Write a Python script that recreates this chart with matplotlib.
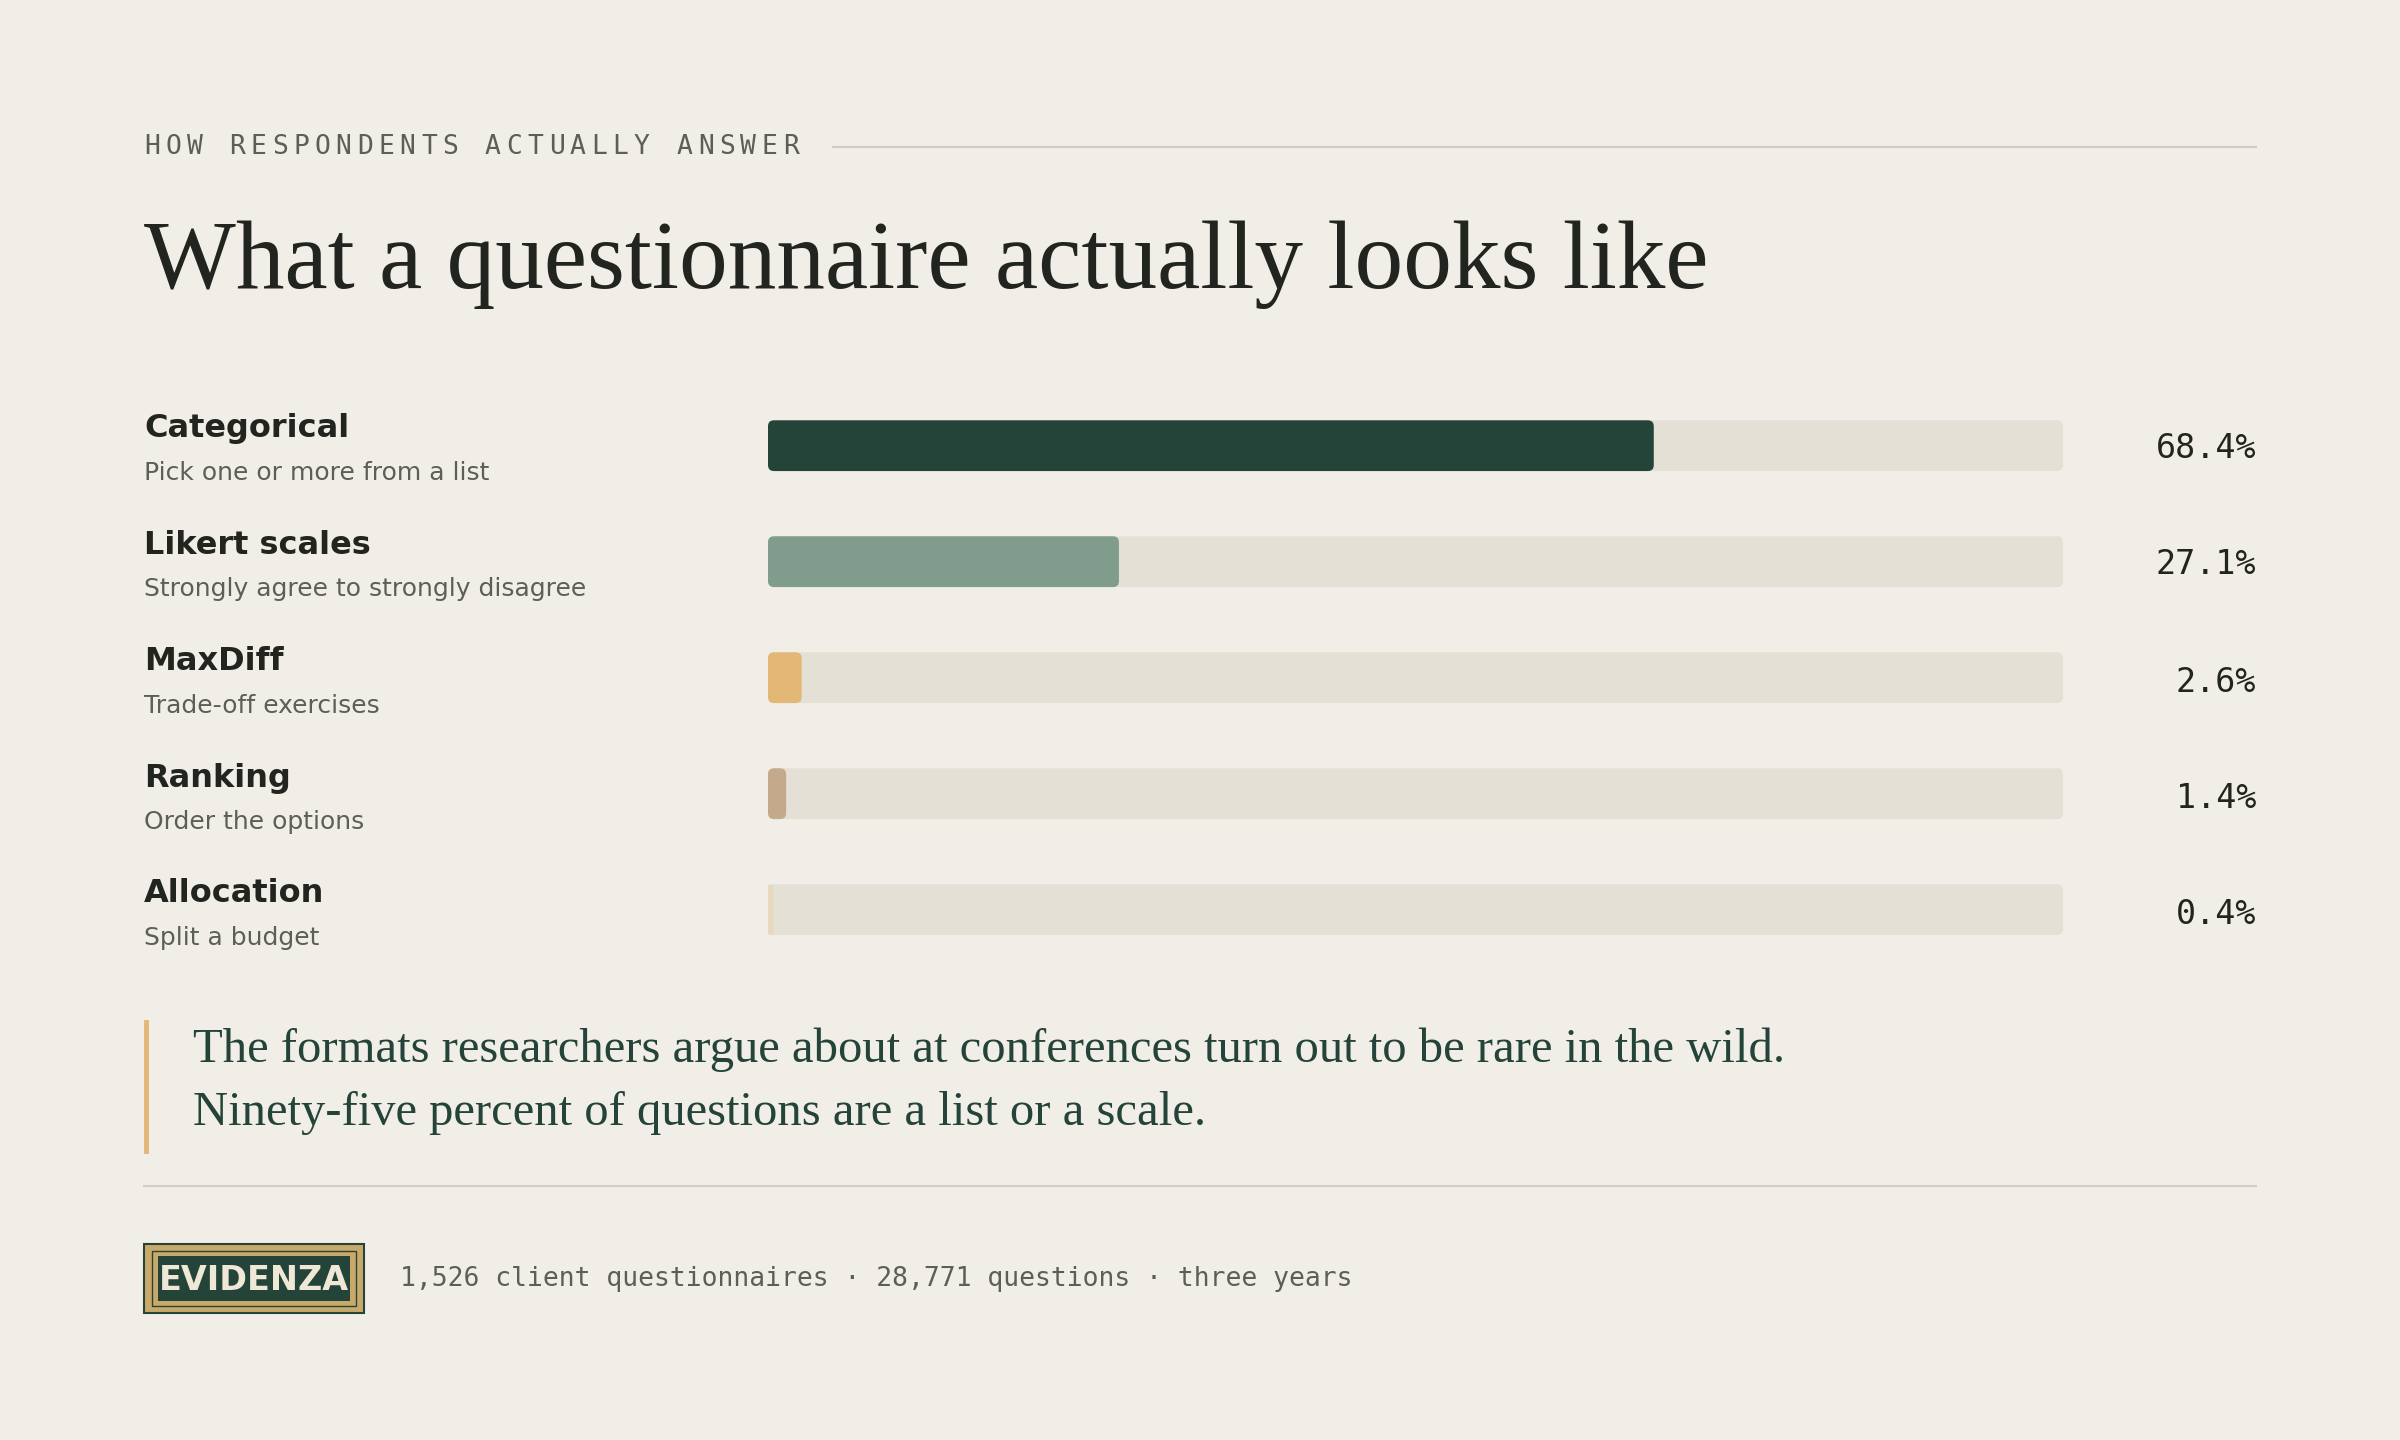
import matplotlib.pyplot as plt
from matplotlib.patches import FancyBboxPatch, Rectangle

names = ['Categorical', 'Likert scales', 'MaxDiff', 'Ranking', 'Allocation']
subs = ['Pick one or more from a list', 'Strongly agree to strongly disagree',
        'Trade-off exercises', 'Order the options', 'Split a budget']
values = [68.4, 27.1, 2.6, 1.4, 0.4]
colors = ['#24443a', '#7f9c8c', '#e3b877', '#c4a98a', '#e8d9bc']

BG = '#f1eee7'
TRACK = '#e4e0d5'
INK = '#22241f'
GREY = '#5c5e58'

fig = plt.figure(figsize=(24, 14.4), dpi=100, facecolor=BG)
bg = fig.add_axes([0, 0, 1, 1])
bg.set_xlim(0, 2400)
bg.set_ylim(1440, 0)
bg.axis('off')

# header, letter-spaced kicker
kicker = 'HOW RESPONDENTS ACTUALLY ANSWER'
for i, ch in enumerate(kicker):
    bg.text(144 + i * 21.3, 147, ch, family='DejaVu Sans Mono', fontsize=19, color=GREY,
            va='center', ha='left')
bg.plot([833, 2256], [147, 147], color='#cfcbc1', lw=1.5)
bg.text(144, 288, 'What a questionnaire actually looks like', family='Liberation Serif',
        fontsize=70, color=INK, va='baseline', ha='left')

# bars
row_y = [447, 563, 680, 796, 912]
ax = fig.add_axes([768 / 2400, 1 - 970 / 1440, (2063 - 768) / 2400, 580 / 1440])
ax.set_xlim(0, 100)
ax.set_ylim(len(names) - 0.5 + 0.02, -0.5 + 0.02)
ax.axis('off')
h = 51 / 116.5
px_x = 100 / 1295
asp = (1 / 116.5) / px_x
for i, (v, c) in enumerate(zip(values, colors)):
    ax.add_patch(FancyBboxPatch((0, i - h / 2), 100, h, boxstyle='round,pad=0,rounding_size=%f' % (6 * px_x),
                                mutation_aspect=asp, fc=TRACK, ec='none'))
    ax.add_patch(FancyBboxPatch((0, i - h / 2), v, h,
                                boxstyle='round,pad=0,rounding_size=%f' % min(6 * px_x, v / 2),
                                mutation_aspect=asp, fc=c, ec='none'))

for y, n, s, v in zip(row_y, names, subs, values):
    bg.text(144, y - 18, n, family='DejaVu Sans', fontsize=23, weight='bold', color=INK,
            va='center', ha='left')
    bg.text(144, y + 26, s, family='DejaVu Sans', fontsize=18, color=GREY, va='center', ha='left')
    bg.text(2256, y + 2, '%.1f%%' % v, family='DejaVu Sans Mono', fontsize=24, color=INK,
            va='center', ha='right')

# quote
bg.plot([146, 146], [1022, 1151], color='#e3b877', lw=3.5)
bg.text(193, 1050, 'The formats researchers argue about at conferences turn out to be rare in the wild.',
        family='Liberation Serif', fontsize=35, color='#24443a', va='center', ha='left')
bg.text(193, 1113, 'Ninety-five percent of questions are a list or a scale.',
        family='Liberation Serif', fontsize=35, color='#24443a', va='center', ha='left')
bg.plot([144, 2256], [1186, 1186], color='#d2cec4', lw=1.5)

# logo
bg.add_patch(Rectangle((144, 1244), 220, 69, fc='#c9a96a', ec='#24443a', lw=1.5))
bg.add_patch(Rectangle((152, 1251), 204, 55, fc='none', ec='#24443a', lw=1))
bg.add_patch(Rectangle((158, 1256), 192, 45, fc='#24443a', ec='none'))
bg.text(254, 1280, 'EVIDENZA', family='DejaVu Sans', fontsize=24, weight='bold',
        color='#efe8d6', va='center', ha='center')
bg.text(400, 1279, '1,526 client questionnaires · 28,771 questions · three years',
        family='DejaVu Sans Mono', fontsize=19, color=GREY, va='center', ha='left')

fig.savefig('out.png', dpi=100, facecolor=BG)
